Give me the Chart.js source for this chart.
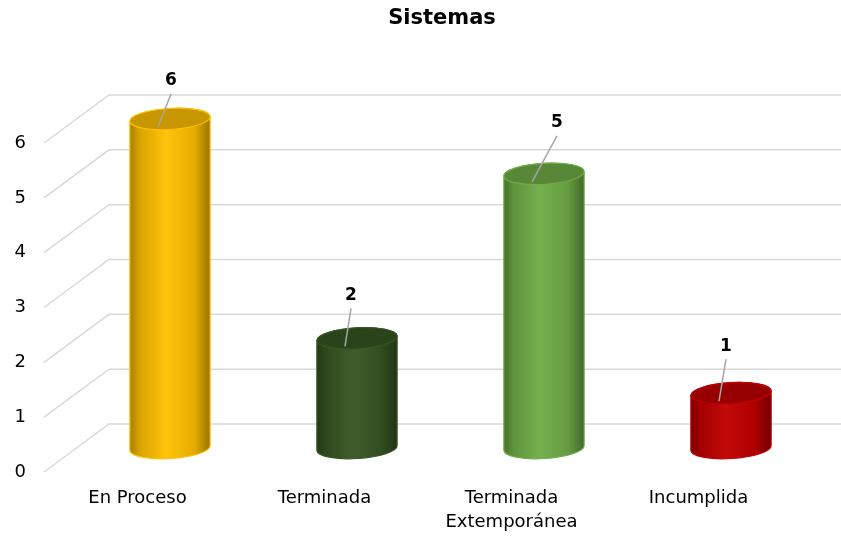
<!DOCTYPE html>
<html>
<head>
<meta charset="utf-8">
<script src="https://cdn.jsdelivr.net/npm/chart.js@4.4.0/dist/chart.umd.min.js"></script>
<style>
    html, body { margin: 0; padding: 0; background: #fff; }
    #wrap { width: 841px; height: 538px; }
</style>
</head>
<body>
<div id="wrap"><canvas id="myChart"></canvas></div>
<script>
let categories = [['En Proceso'], ['Terminada'], ['Terminada', 'Extemporánea'], ['Incumplida']];
let values = [6, 2, 5, 1];
let yTicks = [0, 1, 2, 3, 4, 5, 6];
let chartTitle = 'Sistemas';

let barColors = ['#FFC000', '#375623', '#70AD47', '#C00000'];
// value labels were dragged a little off the bar tops
let labelNudge = [[1, -38], [-6, -43], [13, -51], [-5, -47]];

let fontFamily = 'DejaVu Sans';
let depthX = 65, depthY = 48;

// mix a hex colour toward black (f < 0) or white (f > 0)
function shade(hex, f) {
    let n = parseInt(hex.slice(1), 16);
    let rgb = [n >> 16, (n >> 8) & 255, n & 255];
    let t = f < 0 ? 0 : 255, p = Math.abs(f);
    rgb = rgb.map(c => Math.round((t - c) * p + c));
    return 'rgb(' + rgb.join(',') + ')';
}

// title sits centred over the back wall, not the canvas
const titlePlugin = {
    id: 'wallTitle',
    afterDraw(chart) {
        const ctx = chart.ctx, area = chart.chartArea;
        ctx.save();
        ctx.fillStyle = '#000';
        ctx.font = 'bold 21px ' + fontFamily;
        ctx.textAlign = 'center';
        ctx.textBaseline = 'middle';
        ctx.fillText(chartTitle, (area.left + depthX + chart.width) / 2 - 33, 19);
        ctx.restore();
    }
};

// floor/back wall grid with the 3d slant on the left
const gridPlugin = {
    id: 'grid3d',
    beforeDatasetsDraw(chart) {
        const ctx = chart.ctx, yScale = chart.scales.y, area = chart.chartArea;
        ctx.save();
        ctx.strokeStyle = '#D9D9D9';
        ctx.lineWidth = 1.5;
        yTicks.forEach(v => {
            const y = yScale.getPixelForValue(v);
            ctx.beginPath();
            ctx.moveTo(area.left, y);
            ctx.lineTo(area.left + depthX, y - depthY);
            ctx.lineTo(chart.width, y - depthY);
            ctx.stroke();
        });
        ctx.restore();
    }
};

const cylinderPlugin = {
    id: 'cylinders',
    afterDatasetsDraw(chart) {
        const ctx = chart.ctx;
        const meta = chart.getDatasetMeta(0);
        ctx.save();
        meta.data.forEach((bar, i) => {
            const cx = bar.x + depthX / 2, rx = bar.width / 2, ry = 10.5, rot = -0.06;
            const top = bar.y - depthY / 2, bottom = bar.base - depthY / 2;
            const base = barColors[i];

            const grad = ctx.createLinearGradient(cx - rx, 0, cx + rx, 0);
            grad.addColorStop(0, shade(base, -0.35));
            grad.addColorStop(0.12, shade(base, -0.15));
            grad.addColorStop(0.45, shade(base, 0.04));
            grad.addColorStop(0.8, shade(base, -0.1));
            grad.addColorStop(1, shade(base, -0.4));

            ctx.beginPath();
            ctx.ellipse(cx, bottom, rx, ry, rot, 0, Math.PI);
            ctx.ellipse(cx, top, rx, ry, rot, Math.PI, Math.PI * 2);
            ctx.closePath();
            ctx.fillStyle = grad;
            ctx.fill();
            ctx.strokeStyle = base;
            ctx.lineWidth = 1.2;
            ctx.stroke();

            ctx.beginPath();
            ctx.ellipse(cx, top, rx, ry, rot, 0, Math.PI * 2);
            ctx.fillStyle = shade(base, -0.22);
            ctx.fill();
            ctx.stroke();

            // value label with its leader line
            const lx = cx + labelNudge[i][0], ly = top + labelNudge[i][1];
            ctx.beginPath();
            ctx.moveTo(cx - 12, top + 8);
            ctx.lineTo(lx, ly + 13);
            ctx.strokeStyle = '#A6A6A6';
            ctx.lineWidth = 1.5;
            ctx.stroke();
            ctx.fillStyle = '#000';
            ctx.font = 'bold 17px ' + fontFamily;
            ctx.textAlign = 'center';
            ctx.textBaseline = 'middle';
            ctx.fillText(String(values[i]), lx, ly);
        });
        ctx.restore();
    }
};

let sistemasChart = new Chart('myChart', {
    type: 'bar',
    data: {
        labels: categories,
        datasets: [{
            data: values,
            backgroundColor: 'rgba(0,0,0,0)',
            borderWidth: 0,
            categoryPercentage: 1,
            barPercentage: 0.43
        }]
    },
    options: {
        responsive: true,
        maintainAspectRatio: false,
        animation: false,
        layout: { padding: { left: 0, right: 49, top: 143, bottom: 0 } },
        plugins: {
            legend: { display: false },
            tooltip: { enabled: false },
            title: { display: false }
        },
        scales: {
            x: {
                grid: { display: false, drawTicks: false },
                border: { display: false },
                ticks: {
                    color: '#000',
                    font: { family: fontFamily, size: 18, lineHeight: 1.333 },
                    padding: 14,
                    maxRotation: 0,
                    autoSkip: false
                },
                afterFit(scale) { scale.height = 66; }
            },
            y: {
                min: 0,
                max: 6,
                grid: { display: false, drawTicks: false },
                border: { display: false },
                ticks: {
                    stepSize: 1,
                    color: '#000',
                    font: { family: fontFamily, size: 18 },
                    padding: 18
                },
                afterFit(scale) { scale.width = 44; }
            }
        }
    },
    plugins: [gridPlugin, cylinderPlugin, titlePlugin]
});
</script>
</body>
</html>
